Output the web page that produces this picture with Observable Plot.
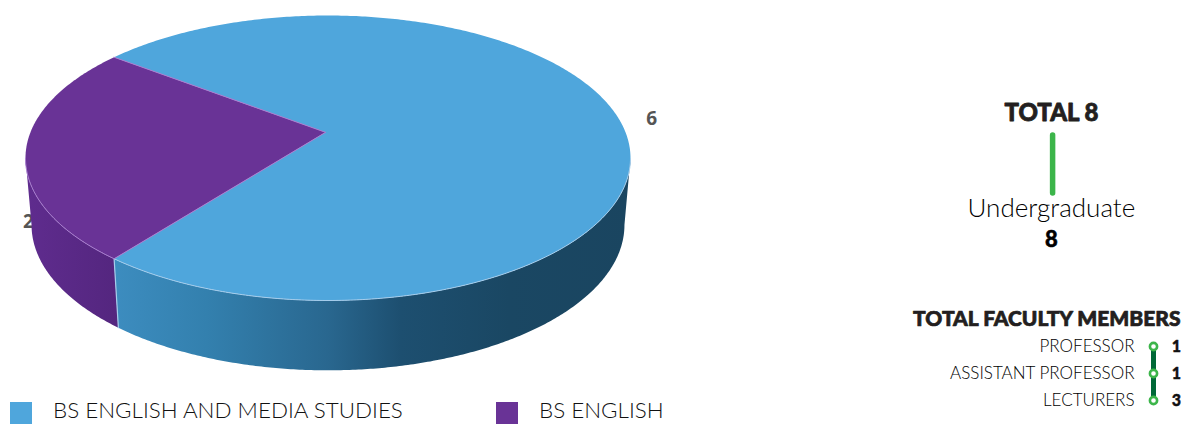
<!DOCTYPE html>
<html><head><meta charset="utf-8">
<script src="https://cdn.jsdelivr.net/npm/d3@7"></script>
<script src="https://cdn.jsdelivr.net/npm/@observablehq/plot@0.6"></script>
<style>
html,body{margin:0;padding:0;background:#fff;overflow:hidden;width:1183px;height:424px}
#root{position:relative;width:1183px;height:424px;font-family:Lato,sans-serif}
#root>svg,#root>div{position:absolute}
.swatch{width:22px;height:22px}
.lg{font:300 22.4px Lato,sans-serif;color:#111;white-space:nowrap;line-height:20px;height:20px}
</style></head><body><div id="root"></div>
<script>
const programmes = ["BS ENGLISH AND MEDIA STUDIES", "BS ENGLISH"];
const students = [6, 2];
const topColors = ["#4fa6dc", "#693396"];
const seamColors = ["#a6cdec", "#a97fd0"];
const totalLabel = "TOTAL 8";
const levels = ["Undergraduate"];
const levelCounts = [8];
const facultyTitle = "TOTAL FACULTY MEMBERS";
const facultyRoles = ["PROFESSOR", "ASSISTANT PROFESSOR", "LECTURERS"];
const facultyCounts = [1, 1, 3];

const root = document.getElementById("root");

// Pie geometry in unit-ellipse coordinates (y grows downward)
const arcs = d3.pie().sort(null).startAngle(5 * Math.PI / 4).endAngle(5 * Math.PI / 4 + 2 * Math.PI)(students);
const apex = {x: -0.008, y: -0.18};
const depth = 0.47, shrink = 0.98;
const along = (a, b) => { const n = Math.ceil((b - a) / 0.01); return d3.range(n + 1).map(i => a + (b - a) * i / n); };
const facePoly = arcs.map(s => [apex, ...along(s.startAngle, s.endAngle).map(t => ({x: Math.cos(t), y: Math.sin(t)}))]);
const sidePoly = arcs.map(s => {
  const ts = along(s.startAngle, s.endAngle).filter(t => Math.sin(t) >= -0.005);
  return [...ts.map(t => ({x: Math.cos(t), y: Math.sin(t)})),
          ...ts.slice().reverse().map(t => ({x: shrink * Math.cos(t), y: depth + 1.02 * Math.sin(t)}))];
});
const edge = a => [apex, {x: Math.cos(a), y: Math.sin(a)}];
const seam = a => [{x: Math.cos(a), y: Math.sin(a)}, {x: shrink * Math.cos(a), y: depth + 1.02 * Math.sin(a)}];
const rimLine = arcs.map(s => along(s.startAngle, s.endAngle).filter(t => Math.sin(t) >= 0).map(t => ({x: Math.cos(t), y: Math.sin(t)})));

const gradient = (id, stops) => () => {
  const d = d3.create("svg:defs");
  const g = d.append("linearGradient").attr("id", id).attr("gradientUnits", "userSpaceOnUse")
    .attr("x1", 25).attr("x2", 630).attr("y1", 0).attr("y2", 0);
  stops.forEach(([o, c]) => g.append("stop").attr("offset", o).attr("stop-color", c));
  return d.node();
};
const polyOpts = fill => ({x: "x", y: "y", fill, stroke: "none", curve: "linear-closed"});

const pie = Plot.plot({
  width: 660, height: 385, margin: 0, axis: null,
  x: {domain: [-1, 1], range: [25, 630]},
  y: {domain: [-1, 1], range: [15, 300]},
  marks: [
    gradient("blueSide", [[0.14, "#3d8dc0"], [0.3, "#3380ae"], [0.5, "#29678f"], [0.62, "#1d4f70"], [0.8, "#1a4763"], [1, "#1a4560"]]),
    gradient("purpleSide", [[0, "#5f2c8e"], [0.15, "#54267f"]]),
    Plot.text([String(students[1])], {x: [-0.99], y: [0.45], fontSize: 19, fontWeight: 700, fontFamily: "Open Sans", fill: "#555"}),
    Plot.text([String(students[0])], {x: [1.07], y: [-0.277], fontSize: 19, fontWeight: 700, fontFamily: "Open Sans", fill: "#555"}),
    Plot.line(sidePoly[0], polyOpts("url(#blueSide)")),
    Plot.line(sidePoly[1], polyOpts("url(#purpleSide)")),
    Plot.line(seam(arcs[1].startAngle), {x: "x", y: "y", stroke: seamColors[0], strokeWidth: 1.2}),
    Plot.line(facePoly[0], polyOpts(topColors[0])),
    Plot.line(facePoly[1], polyOpts(topColors[1])),
    Plot.line(rimLine[0], {x: "x", y: "y", stroke: seamColors[0], strokeWidth: 1}),
    Plot.line(rimLine[1], {x: "x", y: "y", stroke: seamColors[1], strokeWidth: 1}),
    Plot.line(edge(arcs[1].startAngle), {x: "x", y: "y", stroke: seamColors[1], strokeWidth: 1}),
    Plot.line(edge(arcs[1].endAngle), {x: "x", y: "y", stroke: seamColors[1], strokeWidth: 1})
  ]
});
pie.style.left = "0px"; pie.style.top = "0px";
root.append(pie);

// Legend
[[10, 53], [496, 539]].forEach(([sx, tx], i) => {
  const s = document.createElement("div"); s.className = "swatch";
  s.style.cssText += `left:${sx}px;top:402px;background:${topColors[i]}`;
  const t = document.createElement("div"); t.className = "lg"; t.textContent = programmes[i];
  t.style.left = tx + "px"; t.style.top = "400px";
  root.append(s, t);
});

// Total tree
const tree = Plot.plot({
  width: 300, height: 170, margin: 0, axis: null,
  x: {domain: [0, 1], range: [0, 300]},
  y: {domain: [0, 170], range: [0, 170]},
  marks: [
    Plot.text([totalLabel], {x: [0.503], y: [23], fontSize: 24, fontWeight: 900, fontFamily: "Lato", fill: "#231f20", stroke: "#231f20", strokeWidth: 0.8}),
    Plot.ruleX([0.507], {y1: 45, y2: 103, stroke: "#3cb54a", strokeWidth: 5.5, strokeLinecap: "round"}),
    Plot.text(levels, {x: [0.503], y: [118], fontSize: 26, fontWeight: 300, fontFamily: "Lato", fill: "#000"}),
    Plot.text(levelCounts.map(String), {x: [0.503], y: [149], fontSize: 22, fontWeight: 900, fontFamily: "Lato", fill: "#000", stroke: "#000", strokeWidth: 0.5})
  ]
});
tree.style.left = "900px"; tree.style.top = "90px";
root.append(tree);

// Faculty
const faculty = Plot.plot({
  width: 283, height: 120, margin: 0, axis: null,
  x: {domain: [0, 283], range: [0, 283]},
  y: {type: "point", domain: [facultyTitle, ...facultyRoles], range: [18, 100], padding: 0},
  marks: [
    Plot.text([facultyTitle], {x: [280], y: [facultyTitle], textAnchor: "end", fontSize: 21, fontWeight: 900, fontFamily: "Lato", fill: "#231f20", stroke: "#231f20", strokeWidth: 0.7}),
    Plot.text(facultyRoles, {x: () => 234, y: d => d, textAnchor: "end", fontSize: 17, fontWeight: 300, fontFamily: "Lato", fill: "#000"}),
    Plot.line(facultyRoles, {x: () => 253, y: d => d, stroke: "#006837", strokeWidth: 5}),
    Plot.dot(facultyRoles, {x: () => 253, y: d => d, r: 3.6, fill: "#fff", stroke: "#3cb54a", strokeWidth: 2.6}),
    Plot.text(facultyCounts.map(String), {x: () => 276, y: (d, i) => facultyRoles[i], fontSize: 16, fontWeight: 900, fontFamily: "Lato", fill: "#111", stroke: "#111", strokeWidth: 0.4})
  ]
});
faculty.style.left = "900px"; faculty.style.top = "300px";
root.append(faculty);
</script></body></html>
